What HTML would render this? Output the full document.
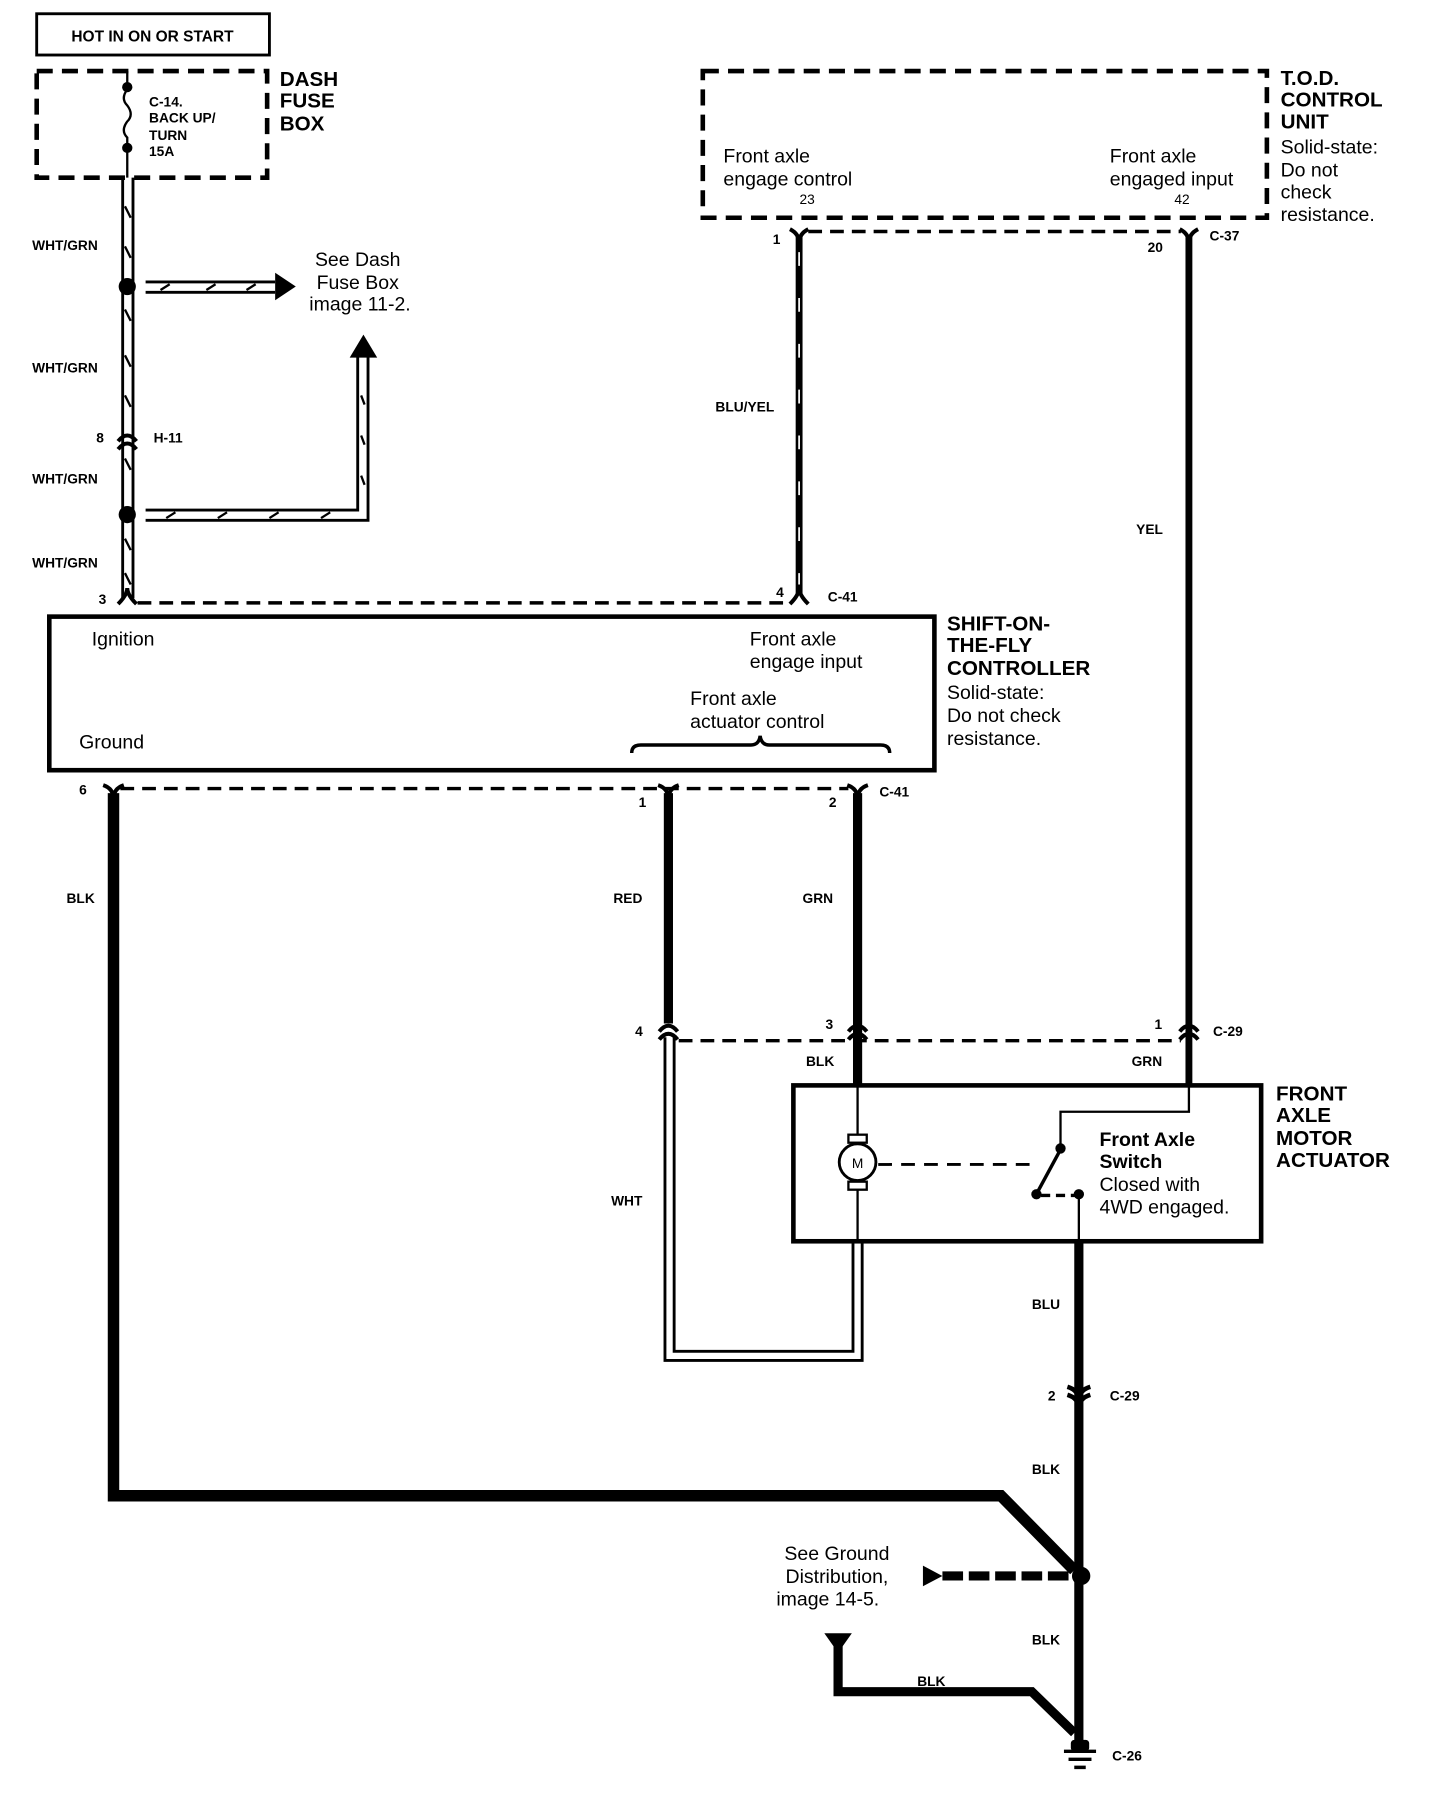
<!DOCTYPE html>
<html><head><meta charset="utf-8"><style>
html,body{margin:0;padding:0;background:#fff}
svg{display:block}
text{font-family:"Liberation Sans",Arial,sans-serif;fill:#000}
.b{font-weight:bold}
.s{font-size:12px;font-weight:bold}
.h{font-size:18px;font-weight:bold}
.r{font-size:17px}
</style></head><body>
<svg width="1440" height="1796" viewBox="0 0 1256 1567" preserveAspectRatio="none" xmlns="http://www.w3.org/2000/svg">
<g fill="none" stroke="#000">
<rect x="32" y="12" width="203" height="36" stroke-width="2.5"/>
<rect x="32" y="62" width="201" height="93" stroke-width="4" stroke-dasharray="14 8"/>
<line x1="111" y1="62" x2="111" y2="78" stroke-width="2"/>
<path d="M111 78 q-6 8 0 14 q6 8 0 14 q-6 8 0 14 L111 155" stroke-width="2"/>
<g stroke-width="2.5">
<line x1="107" y1="155" x2="107" y2="522"/><line x1="116" y1="155" x2="116" y2="522"/>
</g>
<g stroke-width="2">
<path d="M109 180 l5 10 M109 215 l5 10 M109 270 l5 10 M109 310 l5 10 M109 345 l5 10 M109 400 l5 10 M109 470 l5 10 M109 500 l5 10"/>
</g>
<g stroke-width="2.5"><line x1="127" y1="246" x2="240" y2="246"/><line x1="127" y1="255" x2="240" y2="255"/></g>
<path d="M140 253 l8 -5 M180 253 l8 -5 M215 253 l8 -5" stroke-width="2"/>
<path d="M127 445 H312 V310 M127 454 H321 V310" stroke-width="2.5"/>
<path d="M145 452 l8 -5 M190 452 l8 -5 M235 452 l8 -5 M280 452 l8 -5 M315 345 l3 8 M315 380 l3 8 M315 415 l3 8" stroke-width="2"/>
<path d="M103 385 q8 -10 16 0 M103 392 q8 -10 16 0" stroke-width="3.5"/>
<path d="M103 527 q8 -8 8 -14 q0 6 8 14" stroke-width="3.5"/>
<line x1="120" y1="526" x2="690" y2="526" stroke-width="3" stroke-dasharray="12 7"/>
<path d="M689 527 q8 -8 8 -14 q0 6 8 14" stroke-width="3.5"/>
<rect x="43" y="538" width="772" height="134" stroke-width="4"/>
<path d="M551 657 q0 -7 8 -7 H655 q7 0 8 -8 q1 8 8 8 H768 q8 0 8 7" stroke-width="3"/>
<rect x="613" y="62" width="492" height="128" stroke-width="4" stroke-dasharray="14 8"/>
<line x1="705" y1="202" x2="1030" y2="202" stroke-width="3" stroke-dasharray="12 7"/>
<path d="M689 200 q8 4 8 12 q0 -8 8 -12 M1029 200 q8 4 8 12 q0 -8 8 -12" stroke-width="3.5"/>
<line x1="697" y1="205" x2="697" y2="518" stroke-width="6"/>
<path d="M697 220 v12 M697 260 v12 M697 300 v12 M697 340 v12 M697 380 v12 M697 420 v12 M697 460 v12 M697 500 v10" stroke="#fff" stroke-width="1.5"/>
<line x1="1037" y1="205" x2="1037" y2="947" stroke-width="6"/>
<line x1="105" y1="688" x2="740" y2="688" stroke-width="3" stroke-dasharray="12 7"/>
<path d="M90 685 q9 3 9 12 q0 -9 9 -12 M574 685 q9 3 9 12 q0 -9 9 -12 M739 685 q9 3 9 12 q0 -9 9 -12" stroke-width="3.5"/>
<path d="M99 692 V1305 H873 L937 1370" stroke-width="10" stroke-linejoin="miter"/>
<line x1="583" y1="692" x2="583" y2="893" stroke-width="8"/>
<line x1="748" y1="692" x2="748" y2="947" stroke-width="8"/>
<line x1="592" y1="908" x2="1030" y2="908" stroke-width="3" stroke-dasharray="12 7"/>
<path d="M575 900 q8 -10 16 0 M575 907 q8 -10 16 0 M740 900 q8 -10 16 0 M740 907 q8 -10 16 0 M1029 900 q8 -10 16 0 M1029 907 q8 -10 16 0" stroke-width="3.5"/>
<path d="M580 905 V1187 H752 V1083 M588 905 V1179 H744 V1083" stroke-width="2.5"/>
<rect x="692" y="947" width="408" height="136" stroke-width="4"/>
<line x1="748" y1="947" x2="748" y2="990" stroke-width="2"/>
<line x1="748" y1="1038" x2="748" y2="1083" stroke-width="2"/>
<rect x="740" y="990" width="16" height="7" stroke-width="2"/>
<rect x="740" y="1031" width="16" height="7" stroke-width="2"/>
<circle cx="748" cy="1014" r="16" stroke-width="2.5" fill="#fff"/>
<line x1="766" y1="1016" x2="905" y2="1016" stroke-width="2.5" stroke-dasharray="12 8"/>
<path d="M1037 947 V970 H925 V1000" stroke-width="2"/>
<line x1="925" y1="1003" x2="905" y2="1040" stroke-width="3"/>
<line x1="908" y1="1043" x2="938" y2="1043" stroke-width="3" stroke-dasharray="8 5"/>
<line x1="941" y1="1043" x2="941" y2="1083" stroke-width="2"/>
<line x1="941" y1="1083" x2="941" y2="1520" stroke-width="8"/>
<path d="M931 1210 q10 3 10 12 q0 -9 10 -12 M931 1217 q10 3 10 12 q0 -9 10 -12" stroke-width="4"/>
<line x1="822" y1="1375" x2="932" y2="1375" stroke-width="8" stroke-dasharray="18 5"/>
<path d="M731 1432 V1476 H900 L937 1512" stroke-width="8"/>
<path d="M928 1528 H956 M932 1535 H952 M937 1542 H947" stroke-width="3"/>
</g>
<g fill="#000">
<circle cx="111" cy="76" r="4.5"/><circle cx="111" cy="129" r="4.5"/>
<circle cx="111" cy="250" r="7.5"/><circle cx="111" cy="449" r="7.5"/>
<polygon points="240,238 258,250 240,262"/>
<polygon points="305,312 317,292 329,312"/>
<circle cx="925" cy="1002" r="4.5"/><circle cx="904" cy="1042" r="4.5"/><circle cx="941" cy="1042" r="4.5"/>
<circle cx="943" cy="1375" r="8"/>
<polygon points="805,1366 822,1375 805,1384"/>
<polygon points="719,1425 743,1425 731,1442"/>
<rect x="934" y="1518" width="16" height="10" rx="3"/>
</g>
<text x="133" y="36" text-anchor="middle" style="font-size:13.5px;font-weight:bold">HOT IN ON OR START</text>
<text class="h" x="244" y="75">DASH</text><text class="h" x="244" y="94">FUSE</text><text class="h" x="244" y="114">BOX</text>
<text class="s" x="130" y="93">C-14.</text><text class="s" x="130" y="107">BACK UP/</text><text class="s" x="130" y="122">TURN</text><text class="s" x="130" y="136">15A</text>
<text class="s" x="28" y="218">WHT/GRN</text><text class="s" x="28" y="325">WHT/GRN</text><text class="s" x="28" y="422">WHT/GRN</text><text class="s" x="28" y="495">WHT/GRN</text>
<text class="r" x="312" y="232" text-anchor="middle">See Dash</text><text class="r" x="312" y="252" text-anchor="middle">Fuse Box</text><text class="r" x="314" y="271" text-anchor="middle">image 11-2.</text>
<text class="s" x="84" y="386">8</text><text class="s" x="134" y="386">H-11</text>
<text class="s" x="86" y="527">3</text>
<text class="s" x="677" y="521">4</text><text class="s" x="722" y="525">C-41</text>
<text class="r" x="80" y="563">Ignition</text>
<text class="r" x="654" y="563">Front axle</text><text class="r" x="654" y="583">engage input</text>
<text class="r" x="602" y="615">Front axle</text><text class="r" x="602" y="635">actuator control</text>
<text class="r" x="69" y="653">Ground</text>
<text class="h" x="826" y="550">SHIFT-ON-</text><text class="h" x="826" y="569">THE-FLY</text><text class="h" x="826" y="589">CONTROLLER</text>
<text class="r" x="826" y="610">Solid-state:</text><text class="r" x="826" y="630">Do not check</text><text class="r" x="826" y="650">resistance.</text>
<text class="r" x="631" y="142">Front axle</text><text class="r" x="631" y="162">engage control</text><text x="704" y="178" text-anchor="middle" style="font-size:12px">23</text>
<text class="r" x="968" y="142">Front axle</text><text class="r" x="968" y="162">engaged input</text><text x="1031" y="178" text-anchor="middle" style="font-size:12px">42</text>
<text class="h" x="1117" y="74">T.O.D.</text><text class="h" x="1117" y="93">CONTROL</text><text class="h" x="1117" y="112">UNIT</text>
<text class="r" x="1117" y="134">Solid-state:</text><text class="r" x="1117" y="154">Do not</text><text class="r" x="1117" y="173">check</text><text class="r" x="1117" y="193">resistance.</text>
<text class="s" x="674" y="213">1</text><text class="s" x="1001" y="220">20</text><text class="s" x="1055" y="210">C-37</text>
<text class="s" x="624" y="359">BLU/YEL</text><text class="s" x="991" y="466">YEL</text>
<text class="s" x="69" y="693">6</text><text class="s" x="557" y="704">1</text><text class="s" x="723" y="704">2</text><text class="s" x="767" y="695">C-41</text>
<text class="s" x="58" y="788">BLK</text><text class="s" x="535" y="788">RED</text><text class="s" x="700" y="788">GRN</text>
<text class="s" x="554" y="904">4</text><text class="s" x="720" y="898">3</text><text class="s" x="1007" y="898">1</text><text class="s" x="1058" y="904">C-29</text>
<text class="s" x="703" y="930">BLK</text><text class="s" x="987" y="930">GRN</text>
<text x="748" y="1019" text-anchor="middle" style="font-size:12px">M</text>
<text class="r b" x="959" y="1000">Front Axle</text><text class="r b" x="959" y="1019">Switch</text>
<text class="r" x="959" y="1039">Closed with</text><text class="r" x="959" y="1059">4WD engaged.</text>
<text class="h" x="1113" y="960">FRONT</text><text class="h" x="1113" y="979">AXLE</text><text class="h" x="1113" y="999">MOTOR</text><text class="h" x="1113" y="1018">ACTUATOR</text>
<text class="s" x="533" y="1052">WHT</text>
<text class="s" x="900" y="1142">BLU</text>
<text class="s" x="914" y="1222">2</text><text class="s" x="968" y="1222">C-29</text>
<text class="s" x="900" y="1286">BLK</text>
<text class="r" x="730" y="1361" text-anchor="middle">See Ground</text><text class="r" x="730" y="1381" text-anchor="middle">Distribution,</text><text class="r" x="722" y="1401" text-anchor="middle">image 14-5.</text>
<text class="s" x="900" y="1435">BLK</text><text class="s" x="800" y="1471">BLK</text>
<text class="s" x="970" y="1536">C-26</text>
</svg>
</body></html>
